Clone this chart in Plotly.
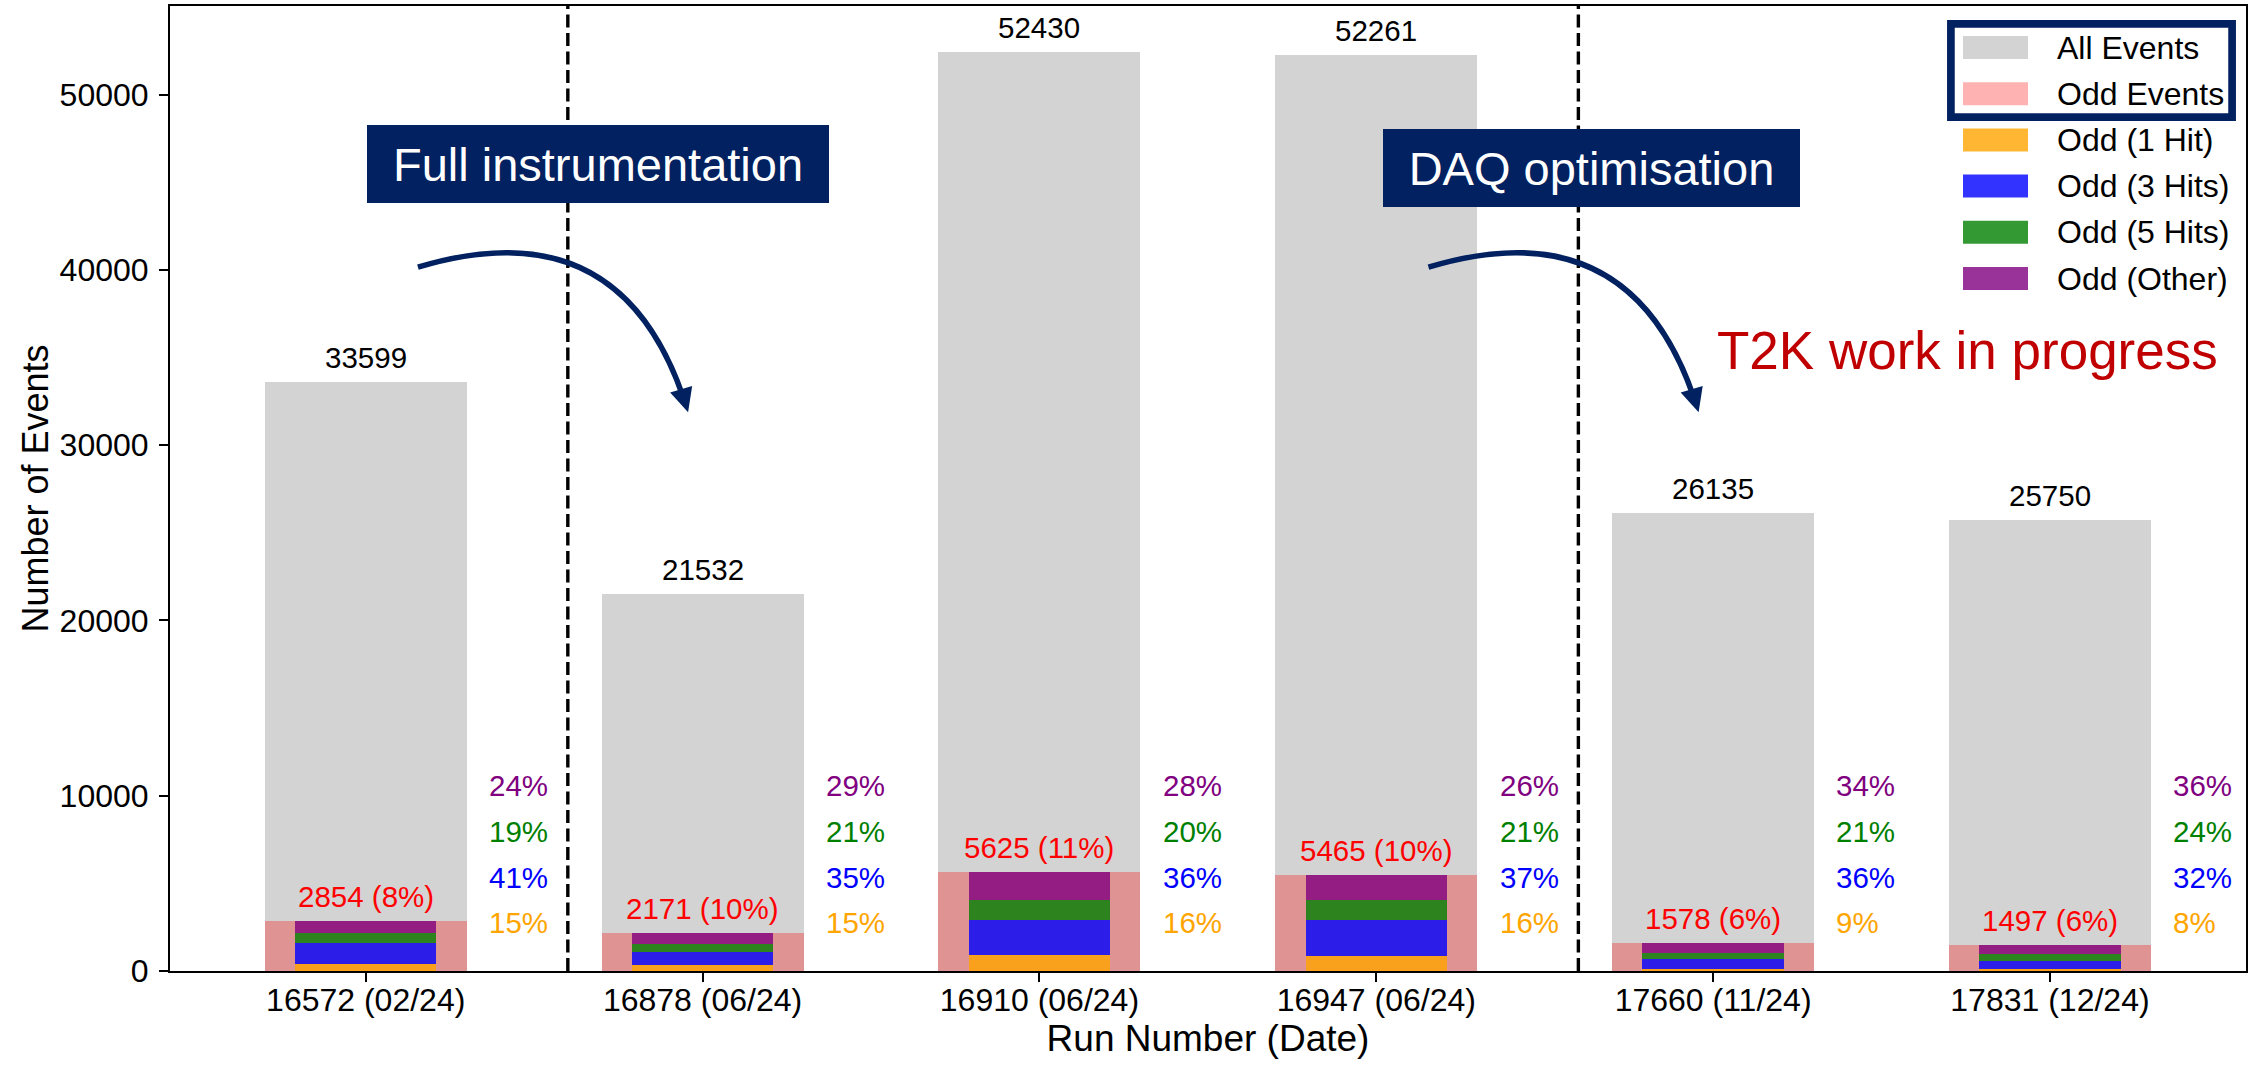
import math
import plotly.graph_objects as go

# ---------------- data ----------------
runs = ["16572 (02/24)", "16878 (06/24)", "16910 (06/24)", "16947 (06/24)",
        "17660 (11/24)", "17831 (12/24)"]
all_events = [33599, 21532, 52430, 52261, 26135, 25750]
odd_events = [2854, 2171, 5625, 5465, 1578, 1497]
odd_pct = [8, 10, 11, 10, 6, 6]
pct_1hit = [15, 15, 16, 16, 9, 8]
pct_3hits = [41, 35, 36, 37, 36, 32]
pct_5hits = [19, 21, 20, 21, 21, 24]
pct_other = [24, 29, 28, 26, 34, 36]

legend_labels = ["All Events", "Odd Events", "Odd (1 Hit)", "Odd (3 Hits)",
                 "Odd (5 Hits)", "Odd (Other)"]
box_texts = ["Full instrumentation", "DAQ optimisation"]
wip_text = "T2K work in progress"

# ---------------- style ----------------
FONT = "Liberation Sans, Arial, sans-serif"
NAVY = "#022160"
C_ALL = "rgb(211,211,211)"
C_ODD = "rgba(255,0,0,0.3)"
C_1 = "rgba(255,165,0,0.8)"
C_3 = "rgba(0,0,255,0.8)"
C_5 = "rgba(0,128,0,0.8)"
C_O = "rgba(128,0,128,0.8)"
T_1, T_3, T_5, T_O = "#FFA500", "#0000FF", "#008000", "#800080"

W, H = 2248, 1066
ML, MR, MT, MB = 170, 2, 6, 95
XR = [-0.581, 5.582]
YMAX = 1.05 * max(all_events)
PW, PH = W - ML - MR, H - MT - MB


def to_px(x, y):
    return (ML + (x - XR[0]) / (XR[1] - XR[0]) * PW,
            MT + (1 - y / YMAX) * PH)


def to_data(px, py):
    return (XR[0] + (px - ML) / PW * (XR[1] - XR[0]),
            (1 - (py - MT) / PH) * YMAX)


def paper(px, py):
    return (px - ML) / PW, (H - MB - py) / PH


xs = list(range(len(runs)))

fig = go.Figure()
fig.add_bar(x=xs, y=all_events, width=0.6, marker=dict(color=C_ALL, line=dict(width=0)),
            name=legend_labels[0], showlegend=False)
fig.add_bar(x=xs, y=odd_events, width=0.6, marker=dict(color=C_ODD, line=dict(width=0)),
            name=legend_labels[1], showlegend=False)

base = [0.0] * len(xs)
for pcts, col, lab in [(pct_1hit, C_1, legend_labels[2]), (pct_3hits, C_3, legend_labels[3]),
                       (pct_5hits, C_5, legend_labels[4]), (pct_other, C_O, legend_labels[5])]:
    h = [o * p / 100.0 for o, p in zip(odd_events, pcts)]
    fig.add_bar(x=xs, y=h, base=list(base), width=0.42,
                marker=dict(color=col, line=dict(width=0)), name=lab, showlegend=False)
    base = [b + v for b, v in zip(base, h)]

ann = []
shapes = []
# value labels
for i in xs:
    ann.append(dict(x=i, y=all_events[i], xref="x", yref="y", text=str(all_events[i]),
                    showarrow=False, yanchor="middle", yshift=24.5,
                    font=dict(family=FONT, size=29.5, color="black")))
    ann.append(dict(x=i, y=odd_events[i], xref="x", yref="y",
                    text=f"{odd_events[i]} ({odd_pct[i]}%)",
                    showarrow=False, yanchor="middle", yshift=24.5,
                    font=dict(family=FONT, size=29.5, color="red")))
    for yv, arr, col in [(2740, pct_1hit, T_1), (5360, pct_3hits, T_3),
                         (7970, pct_5hits, T_5), (10590, pct_other, T_O)]:
        ann.append(dict(x=i + 0.36, y=yv, xref="x", yref="y", text=f"{arr[i]}%",
                        showarrow=False, xanchor="left", yanchor="middle",
                        font=dict(family=FONT, size=29.5, color=col)))

# dashed separators
for xv in [0.6, 3.6]:
    shapes.append(dict(type="line", xref="x", yref="paper", x0=xv, x1=xv, y0=0, y1=1,
                       line=dict(color="black", width=3.4, dash="13px,5.5px"), layer="above"))

# curved arrows (arc3-like quadratic bezier)
def arrow(x0, y0, x1, y1, rad=-0.5, lw=5.5, hl=24, hw=11.5):
    sx, sy = to_px(x0, y0)
    ex, ey = to_px(x1, y1)
    mx, my = (sx + ex) / 2, (sy + ey) / 2
    dx, dy_up = ex - sx, -(ey - sy)
    cx = mx + rad * dy_up
    cy = my + rad * dx
    ux, uy = ex - cx, ey - cy
    n = math.hypot(ux, uy)
    ux, uy = ux / n, uy / n
    bx, by = ex - hl * ux, ey - hl * uy
    tau = 0.96
    c2x, c2y = (1 - tau) * sx + tau * cx, (1 - tau) * sy + tau * cy
    px_ = (1 - tau) ** 2 * sx + 2 * tau * (1 - tau) * cx + tau ** 2 * ex
    py_ = (1 - tau) ** 2 * sy + 2 * tau * (1 - tau) * cy + tau ** 2 * ey
    d = lambda a, b: "%.5f,%.3f" % to_data(a, b)
    shapes.append(dict(type="path", xref="x", yref="y",
                       path=f"M {d(sx, sy)} Q {d(c2x, c2y)} {d(px_, py_)}",
                       line=dict(color=NAVY, width=lw), fillcolor="rgba(0,0,0,0)", layer="above"))
    p1 = (bx - hw * uy, by + hw * ux)
    p2 = (bx + hw * uy, by - hw * ux)
    shapes.append(dict(type="path", xref="x", yref="y",
                       path=f"M {d(ex, ey)} L {d(*p1)} L {d(*p2)} Z",
                       line=dict(width=0), fillcolor=NAVY, layer="above"))


arrow(0.155, 40150, 0.957, 31875)
arrow(3.155, 40150, 3.957, 31875)

# label boxes
for txt, xv, yv, bw in [(box_texts[0], 0.004, 46024, 462), (box_texts[1], 3.02, 45796, 417)]:
    ann.append(dict(x=xv, y=yv, xref="x", yref="y", text=txt, showarrow=False,
                    xanchor="left", yanchor="middle", bgcolor=NAVY, borderpad=0,
                    borderwidth=0, width=bw, height=78, align="center",
                    font=dict(family=FONT, size=47, color="white")))

ann.append(dict(x=4.754, y=35412, xref="x", yref="y", text=wip_text, showarrow=False,
                xanchor="center", yanchor="middle",
                font=dict(family=FONT, size=53, color="#C00000")))

# manual legend (matplotlib-like swatches)
leg_cols = ["rgb(211,211,211)", "rgba(255,0,0,0.3)", C_1, C_3, C_5, C_O]
row0, pitch = 47.5, 46.2
for k, (lab, col) in enumerate(zip(legend_labels, leg_cols)):
    cy = row0 + k * pitch
    x0p, y0p = paper(1963, cy + 11.5)
    x1p, y1p = paper(2028, cy - 11.5)
    shapes.append(dict(type="rect", xref="paper", yref="paper", x0=x0p, x1=x1p, y0=y0p, y1=y1p,
                       fillcolor=col, line=dict(width=0), layer="above"))
    tx, ty = paper(2055, cy)
    ann.append(dict(x=tx, y=ty, xref="paper", yref="paper", text=lab, showarrow=False,
                    xanchor="left", yanchor="middle",
                    font=dict(family=FONT, size=32, color="black")))

# navy highlight around first two legend entries
hx0, hy0 = paper(1950.9, 117.1)
hx1, hy1 = paper(2232.1, 23.9)
shapes.append(dict(type="rect", xref="paper", yref="paper", x0=hx0, x1=hx1, y0=hy0, y1=hy1,
                   line=dict(color=NAVY, width=7.7), fillcolor="rgba(0,0,0,0)", layer="above"))

fig.update_layout(
    width=W, height=H, barmode="overlay", bargap=0,
    margin=dict(l=ML, r=MR, t=MT, b=MB, autoexpand=False),
    paper_bgcolor="white", plot_bgcolor="white",
    font=dict(family=FONT, color="black"),
    showlegend=False,
    annotations=ann, shapes=shapes,
    xaxis=dict(range=XR, tickmode="array", tickvals=xs, ticktext=runs,
               tickfont=dict(size=32, family=FONT), ticks="outside", ticklen=9, tickwidth=2,
               tickcolor="black", showline=True, linecolor="black", linewidth=2, mirror=True,
               showgrid=False, zeroline=False, ticklabelstandoff=-9,
               title=dict(text="Run Number (Date)", font=dict(size=37, family=FONT), standoff=7)),
    yaxis=dict(range=[0, YMAX], tickmode="linear", tick0=0, dtick=10000, tickformat="d",
               tickfont=dict(size=32, family=FONT), ticks="outside", ticklen=9, tickwidth=2,
               tickcolor="black", showline=True, linecolor="black", linewidth=2, mirror=True,
               showgrid=False, zeroline=False, ticklabelstandoff=4,
               title=dict(text="Number of Events", font=dict(size=36, family=FONT), standoff=0)),
)

fig.write_html("out.html", config={"displayModeBar": False},
               post_script="document.body.style.margin='0';document.body.style.padding='0';")
